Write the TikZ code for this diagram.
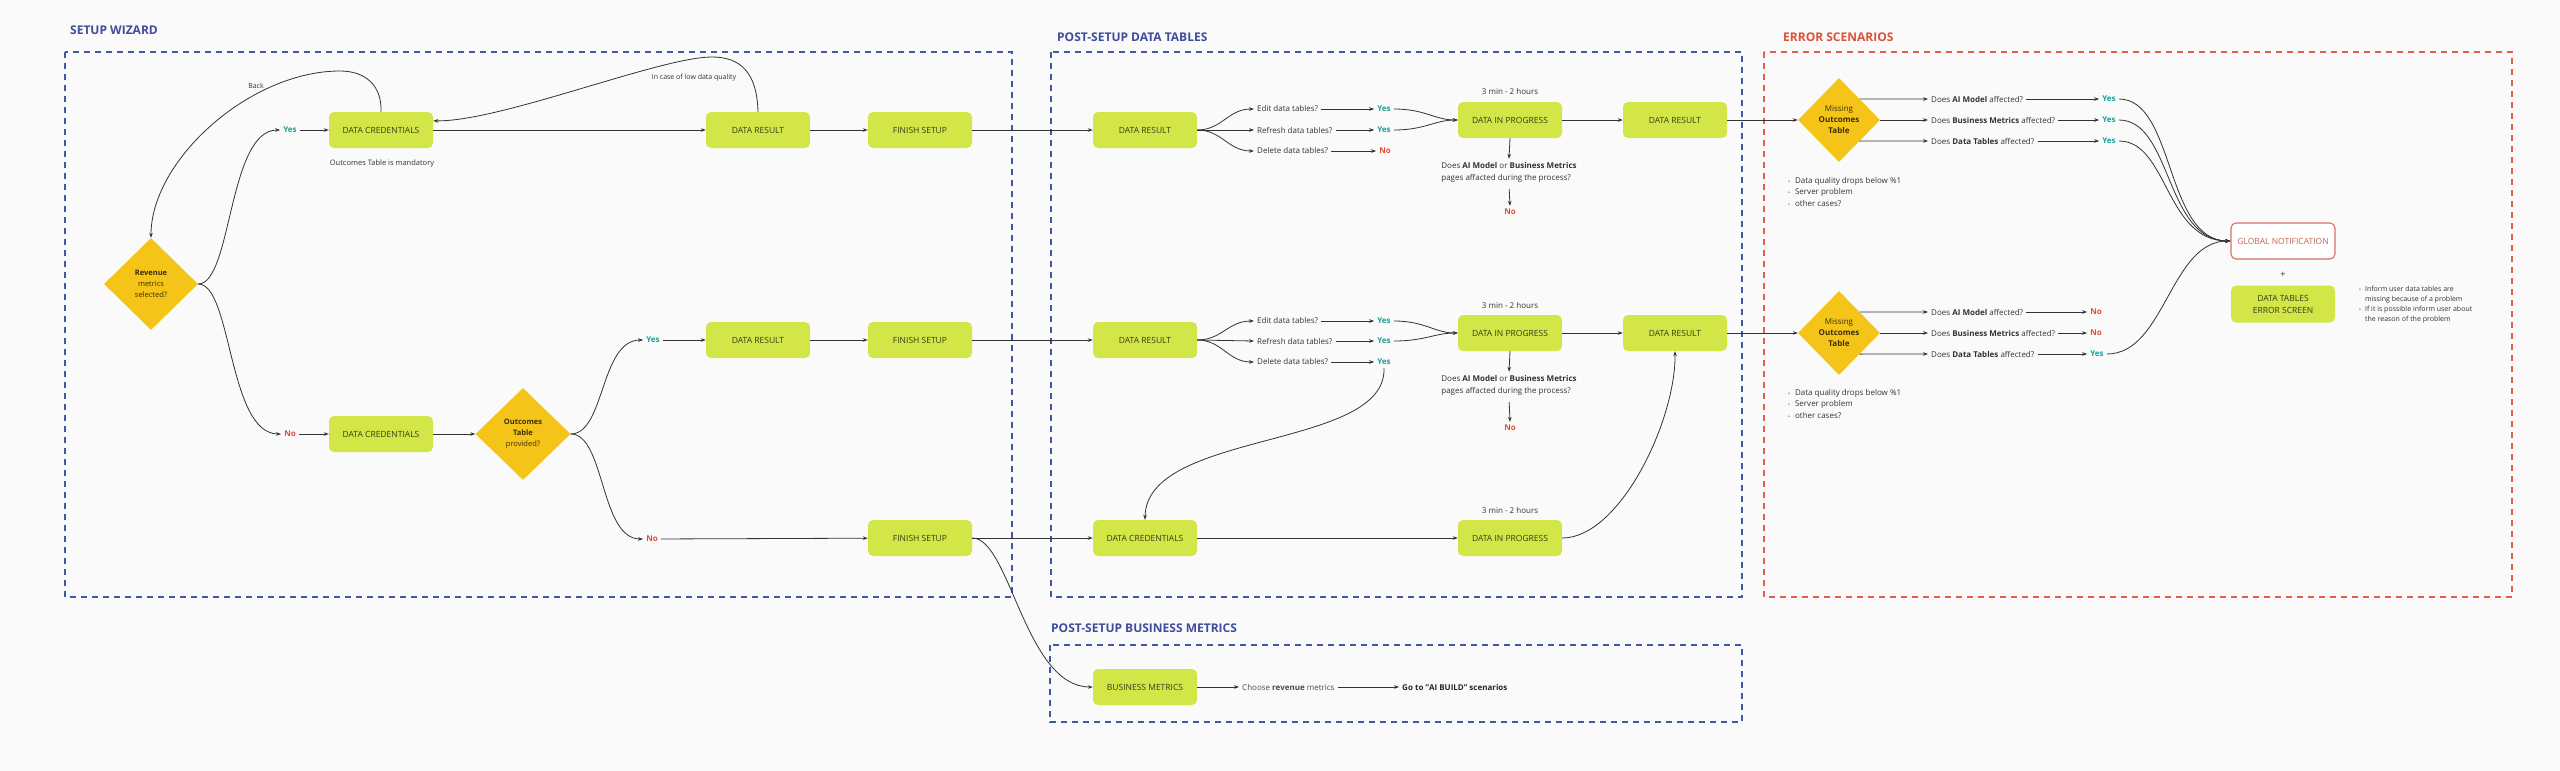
\documentclass[tikz,border=0pt]{standalone}
\usepackage{fontspec}
\setmainfont{Open Sans}
\usetikzlibrary{shapes.geometric,arrows.meta,calc}
\definecolor{bgc}{HTML}{FAFAFA}
\definecolor{boxg}{HTML}{D3E647}
\definecolor{boxtext}{HTML}{3A3C1C}
\definecolor{goldc}{HTML}{F5C419}
\definecolor{diatext}{HTML}{3D2E05}
\definecolor{navyc}{HTML}{3F4C9C}
\definecolor{dashblue}{HTML}{3C5AA3}
\definecolor{dashred}{HTML}{E0604E}
\definecolor{titlered}{HTML}{D9533C}
\definecolor{yesc}{HTML}{17A398}
\definecolor{noc}{HTML}{E04B35}
\definecolor{linec}{HTML}{333333}
\definecolor{txtc}{HTML}{333333}
\definecolor{globred}{HTML}{D9705F}
\tikzset{
  box/.style={rectangle, rounded corners=5pt, fill=boxg, minimum width=104pt, minimum height=36pt, inner sep=0pt, align=center, font=\fontsize{8.5}{12}\selectfont, text=boxtext},
  dia/.style={diamond, fill=goldc, inner sep=0pt, align=center, text=diatext, font=\fontsize{7.5}{11}\selectfont},
  lbl/.style={font=\fontsize{8}{12}\selectfont, text=txtc, inner sep=3pt},
  smalllbl/.style={font=\fontsize{7}{9}\selectfont, text=txtc, inner sep=2pt},
  yeslbl/.style={font=\bfseries\fontsize{8}{10}\selectfont, text=yesc, inner sep=3pt},
  nolbl/.style={font=\bfseries\fontsize{8}{10}\selectfont, text=noc, inner sep=3pt},
  arr/.style={draw=linec, line width=0.8pt, -{Stealth[length=5pt,width=3.6pt]}},
  frame/.style={dash pattern=on 6pt off 5pt, line width=1.6pt},
  ttl/.style={font=\bfseries\fontsize{12}{14}\selectfont, anchor=west, inner sep=0pt},
}
\begin{document}
\begin{tikzpicture}[x=1pt,y=-1pt]
\useasboundingbox (0,0) rectangle (2560,771);
\fill[bgc] (0,0) rectangle (2560,771);

% frames and titles
\draw[frame, draw=dashblue] (65,52) rectangle (1012,597);
\draw[frame, draw=dashblue] (1051,52) rectangle (1742,597);
\draw[frame, draw=dashred] (1764,52) rectangle (2512,597);
\draw[frame, draw=dashblue] (1050,645) rectangle (1742,722);
\node[ttl, text=navyc] (tsw) at (70,30) {SETUP WIZARD};
\node[ttl, text=navyc] (tpt) at (1057,37) {POST-SETUP DATA TABLES};
\node[ttl, text=titlered] (ter) at (1783,37) {ERROR SCENARIOS};
\node[ttl, text=navyc] (tbm) at (1051,628) {POST-SETUP BUSINESS METRICS};

% ---------------- setup wizard
\node[box] (dc1) at (381,130) {DATA CREDENTIALS};
\node[box] (dr1) at (758,130) {DATA RESULT};
\node[box] (fs1) at (920,130) {FINISH SETUP};
\node[dia, minimum width=94pt, minimum height=92pt] (rev) at (151,284) {\textbf{Revenue}\\metrics\\selected?};
\node[yeslbl] (y1) at (290,130) {Yes};
\node[nolbl] (n1) at (290,434) {No};
\node[box] (dc2) at (381,434) {DATA CREDENTIALS};
\node[dia, minimum width=95pt, minimum height=92pt] (outc) at (523,434) {\textbf{Outcomes}\\\textbf{Table}\\provided?};
\node[yeslbl] (y2) at (653,340) {Yes};
\node[nolbl] (n2) at (652,539) {No};
\node[box] (dr2) at (758,340) {DATA RESULT};
\node[box] (fs2) at (920,340) {FINISH SETUP};
\node[box] (fs3) at (920,538) {FINISH SETUP};
\node[smalllbl] (back) at (256,86) {Back};
\node[smalllbl] (lowq) at (694,78) {In case of low data quality};
\node[smalllbl, font=\fontsize{7.5}{9}\selectfont] (mand) at (382,164) {Outcomes Table is mandatory};

\draw[arr] (rev.east) .. controls (232,284) and (228,130) .. (y1.west);
\draw[arr] (rev.east) .. controls (232,284) and (228,434) .. (n1.west);
\draw[arr] (y1) -- (dc1);
\draw[arr] (n1) -- (dc2);
\draw[arr] (dc1) -- (dr1);
\draw[arr] (dr1) -- (fs1);
\draw[arr] (dc2) -- (outc);
\draw[arr] (outc.east) .. controls (605,434) and (600,340) .. (y2.west);
\draw[arr] (outc.east) .. controls (605,434) and (600,539) .. (n2.west);
\draw[arr] (y2) -- (dr2);
\draw[arr] (dr2) -- (fs2);
\draw[arr] (n2) -- (fs3);
\draw[arr] (dc1.north) .. controls (382,85) and (365,71) .. (340,71) .. controls (250,71) and (151,160) .. (rev.north);
\draw[arr] (dr1.north) .. controls (757,72) and (740,57) .. (712,57) .. controls (660,57) and (500,122) .. (dc1.10);

% ---------------- post-setup data tables
\node[box] (pdr1) at (1145,130) {DATA RESULT};
\node[lbl, anchor=west] (e1) at (1254,109) {Edit data tables?};
\node[lbl, anchor=west] (r1) at (1254,130) {Refresh data tables?};
\node[lbl, anchor=west] (d1) at (1254,151) {Delete data tables?};
\node[yeslbl] (ye1) at (1384,109) {Yes};
\node[yeslbl] (yr1) at (1384,130) {Yes};
\node[nolbl] (nd1) at (1385,151) {No};
\node[box] (dip1) at (1510,120) {DATA IN PROGRESS};
\node[lbl] (t1) at (1510,91) {3 min - 2 hours};
\node[box] (pdr2) at (1675,120) {DATA RESULT};
\node[lbl, align=left] (q1) at (1509,172) {Does \textbf{AI Model} or \textbf{Business Metrics}\\pages affacted during the process?};
\node[nolbl] (nq1) at (1510,212) {No};

\node[box] (pdr3) at (1145,340) {DATA RESULT};
\node[lbl, anchor=west] (e2) at (1254,321) {Edit data tables?};
\node[lbl, anchor=west] (r2) at (1254,341) {Refresh data tables?};
\node[lbl, anchor=west] (d2) at (1254,362) {Delete data tables?};
\node[yeslbl] (ye2) at (1384,321) {Yes};
\node[yeslbl] (yr2) at (1384,341) {Yes};
\node[yeslbl] (yd2) at (1384,362) {Yes};
\node[box] (dip2) at (1510,333) {DATA IN PROGRESS};
\node[lbl] (t2) at (1510,305) {3 min - 2 hours};
\node[box] (pdr4) at (1675,333) {DATA RESULT};
\node[lbl, align=left] (q2) at (1509,385) {Does \textbf{AI Model} or \textbf{Business Metrics}\\pages affacted during the process?};
\node[nolbl] (nq2) at (1510,428) {No};

\node[box] (pdc) at (1145,538) {DATA CREDENTIALS};
\node[box] (dip3) at (1510,538) {DATA IN PROGRESS};
\node[lbl] (t3) at (1510,510) {3 min - 2 hours};

\draw[arr] (fs1) -- (pdr1);
\draw[arr] (fs2) -- (pdr3);
\draw[arr] (fs3) -- (pdc);

\draw[arr] (pdr1.east) .. controls (1222,130) and (1228,109) .. (e1.west);
\draw[arr] (pdr1) -- (r1);
\draw[arr] (pdr1.east) .. controls (1222,130) and (1228,151) .. (d1.west);
\draw[arr] (e1) -- (ye1);
\draw[arr] (r1) -- (yr1);
\draw[arr] (d1) -- (nd1);
\draw[arr] (ye1.east) .. controls (1425,109) and (1435,120) .. (dip1.west);
\draw[arr] (yr1.east) .. controls (1425,130) and (1435,120) .. (dip1.west);
\draw[arr] (dip1) -- (pdr2);
\draw[arr] (dip1.south) -- (q1.north);
\draw[arr, shorten <=4pt] (q1.south) -- (nq1.north);

\draw[arr] (pdr3.east) .. controls (1222,340) and (1228,321) .. (e2.west);
\draw[arr] (pdr3.east) -- (r2.west);
\draw[arr] (pdr3.east) .. controls (1222,340) and (1228,362) .. (d2.west);
\draw[arr] (e2) -- (ye2);
\draw[arr] (r2) -- (yr2);
\draw[arr] (d2) -- (yd2);
\draw[arr] (ye2.east) .. controls (1425,321) and (1435,333) .. (dip2.west);
\draw[arr] (yr2.east) .. controls (1425,341) and (1435,333) .. (dip2.west);
\draw[arr] (dip2) -- (pdr4);
\draw[arr] (dip2.south) -- (q2.north);
\draw[arr, shorten <=4pt] (q2.south) -- (nq2.north);
\draw[arr] (yd2.south) .. controls (1387,450) and (1146,430) .. (pdc.north);
\draw[arr] (pdc) -- (dip3);
\draw[arr] (dip3.east) .. controls (1620,538) and (1676,420) .. (pdr4.south);

% ---------------- business metrics
\node[box] (bm) at (1145,687) {BUSINESS METRICS};
\node[lbl, anchor=west, text=black!70] (ch) at (1239,687) {Choose \textbf{revenue} metrics};
\node[lbl, anchor=west, text=black!85] (gt) at (1399,687) {\textbf{Go to "AI BUILD" scenarios}};
\draw[arr] (fs3.east) .. controls (1010,538) and (1025,687) .. (bm.west);
\draw[arr] (bm) -- (ch);
\draw[arr] (ch) -- (gt);

% ---------------- error scenarios
\node[dia, minimum width=82pt, minimum height=84pt, font=\fontsize{8}{11}\selectfont] (m1) at (1839,120) {Missing\\\textbf{Outcomes}\\\textbf{Table}};
\node[lbl, anchor=west] (a1) at (1928,99) {Does \textbf{AI Model} affected?};
\node[lbl, anchor=west] (b1) at (1928,120) {Does \textbf{Business Metrics} affected?};
\node[lbl, anchor=west] (c1) at (1928,141) {Does \textbf{Data Tables} affected?};
\node[yeslbl] (ya1) at (2109,99) {Yes};
\node[yeslbl] (yb1) at (2109,120) {Yes};
\node[yeslbl] (yc1) at (2109,141) {Yes};
\node[anchor=north west, inner sep=0pt, text=txtc, font=\fontsize{8}{11.5}\selectfont] (bl1) at (1788,175) {\begin{tabular}{@{}l@{\hspace{5pt}}l@{}}{\fontsize{5}{5}\selectfont•} & Data quality drops below \%1\\{\fontsize{5}{5}\selectfont•} & Server problem\\{\fontsize{5}{5}\selectfont•} & other cases?\end{tabular}};

\node[dia, minimum width=82pt, minimum height=84pt, font=\fontsize{8}{11}\selectfont] (m2) at (1839,333) {Missing\\\textbf{Outcomes}\\\textbf{Table}};
\node[lbl, anchor=west] (a2) at (1928,312) {Does \textbf{AI Model} affected?};
\node[lbl, anchor=west] (b2) at (1928,333) {Does \textbf{Business Metrics} affected?};
\node[lbl, anchor=west] (c2) at (1928,354) {Does \textbf{Data Tables} affected?};
\node[nolbl] (na2) at (2096,312) {No};
\node[nolbl] (nb2) at (2096,333) {No};
\node[yeslbl] (yc2) at (2097,354) {Yes};
\node[anchor=north west, inner sep=0pt, text=txtc, font=\fontsize{8}{11.5}\selectfont] (bl2) at (1788,387) {\begin{tabular}{@{}l@{\hspace{5pt}}l@{}}{\fontsize{5}{5}\selectfont•} & Data quality drops below \%1\\{\fontsize{5}{5}\selectfont•} & Server problem\\{\fontsize{5}{5}\selectfont•} & other cases?\end{tabular}};

\node[box, fill=white, draw=globred, line width=1.1pt, text=globred!90!black] (glob) at (2283,241) {GLOBAL NOTIFICATION};
\node[lbl, font=\fontsize{9}{10}\selectfont] (plus) at (2283,275) {+};
\node[box, minimum height=37pt] (dtes) at (2283,304) {DATA TABLES\\ERROR SCREEN};
\node[anchor=north west, inner sep=0pt, text=txtc, font=\fontsize{7}{10}\selectfont] (bl3) at (2359,284) {\begin{tabular}{@{}l@{\hspace{4pt}}l@{}}{\fontsize{5}{5}\selectfont•} & Inform user data tables are\\ & missing because of a problem\\{\fontsize{5}{5}\selectfont•} & If it is possible inform user about\\ & the reason of the problem\end{tabular}};

\draw[arr] (pdr2) -- (m1);
\draw[arr] (pdr4) -- (m2);
\draw[arr] (m1.north east) -- (a1.west);
\draw[arr] (m1.east) -- (b1.west);
\draw[arr] (m1.south east) -- (c1.west);
\draw[arr] (a1) -- (ya1);
\draw[arr] (b1) -- (yb1);
\draw[arr] (c1) -- (yc1);
\draw[arr] (m2.north east) -- (a2.west);
\draw[arr] (m2.east) -- (b2.west);
\draw[arr] (m2.south east) -- (c2.west);
\draw[arr] (a2) -- (na2);
\draw[arr] (b2) -- (nb2);
\draw[arr] (c2) -- (yc2);
\draw[arr] (ya1.east) .. controls (2175,99) and (2165,241) .. (glob.west);
\draw[arr] (yb1.east) .. controls (2172,120) and (2165,241) .. (glob.west);
\draw[arr] (yc1.east) .. controls (2168,141) and (2165,241) .. (glob.west);
\draw[arr] (yc2.east) .. controls (2165,354) and (2170,241) .. (glob.west);
\end{tikzpicture}
\end{document}
